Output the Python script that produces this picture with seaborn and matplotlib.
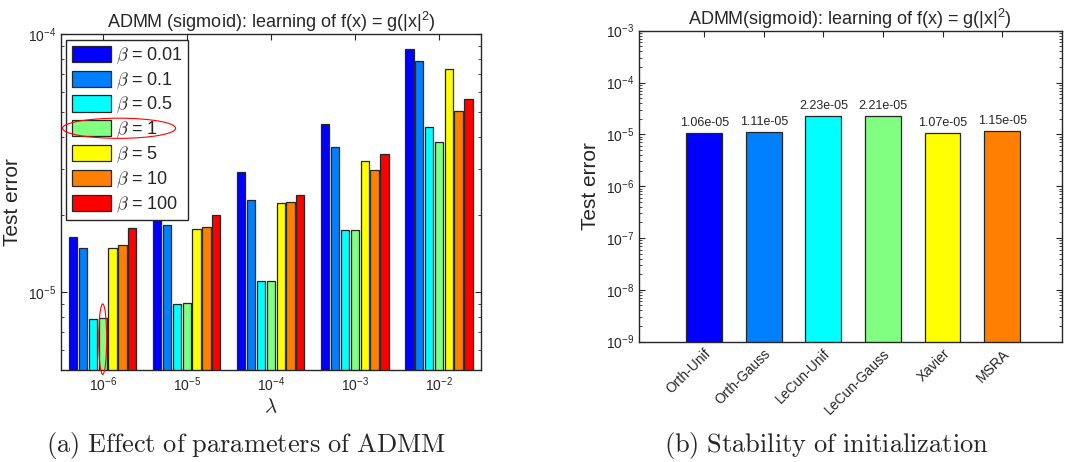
import numpy as np
import pandas as pd
import matplotlib
matplotlib.use("Agg")
import matplotlib.pyplot as plt
import matplotlib.ticker as mticker
import matplotlib.transforms as mtransforms
from matplotlib.patches import Ellipse
import seaborn as sns

# --- data ---
lambdas = ["1e-6", "1e-5", "1e-4", "1e-3", "1e-2"]
lambda_labels = [r"$\mathregular{10^{-6}}$", r"$\mathregular{10^{-5}}$", r"$\mathregular{10^{-4}}$",
                 r"$\mathregular{10^{-3}}$", r"$\mathregular{10^{-2}}$"]
betas = ["0.01", "0.1", "0.5", "1", "5", "10", "100"]
err_b001 = [1.64e-5, 2.20e-5, 2.92e-5, 4.48e-5, 8.77e-5]
err_b01 = [1.48e-5, 1.82e-5, 2.29e-5, 3.66e-5, 7.88e-5]
err_b05 = [7.86e-6, 8.98e-6, 1.11e-5, 1.74e-5, 4.37e-5]
err_b1 = [7.98e-6, 9.06e-6, 1.105e-5, 1.74e-5, 3.84e-5]
err_b5 = [1.48e-5, 1.76e-5, 2.23e-5, 3.22e-5, 7.36e-5]
err_b10 = [1.52e-5, 1.79e-5, 2.25e-5, 2.99e-5, 5.04e-5]
err_b100 = [1.77e-5, 1.99e-5, 2.38e-5, 3.44e-5, 5.62e-5]

inits = ["Orth-Unif", "Orth-Gauss", "LeCun-Unif", "LeCun-Gauss", "Xavier", "MSRA"]
init_err = [1.06e-5, 1.11e-5, 2.23e-5, 2.21e-5, 1.07e-5, 1.15e-5]

jet7 = ["#0000ff", "#0080ff", "#00ffff", "#80ff80", "#ffff00", "#ff8000", "#ff0000"]

sns.set_style("ticks")
plt.rcParams["font.family"] = ["Liberation Sans", "DejaVu Sans"]
plt.rcParams["mathtext.fontset"] = "cm"
plt.rcParams["axes.edgecolor"] = "#262626"
plt.rcParams["axes.linewidth"] = 1.0

rows = []
for b, errs in zip(betas, [err_b001, err_b01, err_b05, err_b1, err_b5, err_b10, err_b100]):
    for lam, e in zip(lambdas, errs):
        rows.append({"lam": lam, "err": e, "beta": r"$\beta$ = " + b})
df = pd.DataFrame(rows)

fig = plt.figure(figsize=(10.7, 4.62), dpi=100)
ax1 = fig.add_axes([0.0567, 0.199, 0.3928, 0.7266])
ax2 = fig.add_axes([0.5969, 0.2604, 0.3953, 0.6732])

# (a) grouped bars
sns.barplot(data=df, x="lam", y="err", hue="beta", palette=jet7, saturation=1, width=0.82, gap=0.16,
            edgecolor="#262626", linewidth=0.9, errorbar=None, ax=ax1)
ax1.set_yscale("log")
ax1.set_ylim(5e-6, 1e-4)
ax1.set_xlim(-0.5, 4.5)
ax1.set_yticks([1e-5, 1e-4])
ax1.set_yticklabels([r"$\mathregular{10^{-5}}$", r"$\mathregular{10^{-4}}$"])
ax1.yaxis.set_minor_formatter(mticker.NullFormatter())
ax1.set_xticks(range(len(lambdas)))
ax1.set_xticklabels(lambda_labels)
ax1.tick_params(which="both", direction="in", top=True, right=True, labelsize=10,
                labelcolor="#262626", color="#262626")
ax1.tick_params(which="major", length=4)
ax1.tick_params(which="minor", length=2.5)
ax1.set_xlabel(r"$\lambda$", fontsize=15, color="#262626", labelpad=3)
ax1.set_ylabel("Test error", fontsize=15, color="#262626", labelpad=4)
ax1.set_title(r"ADMM (sigmoid): learning of f(x) = g(|x|$\mathregular{^2}$)", fontsize=13, pad=4)
h, l = ax1.get_legend_handles_labels()
leg = ax1.legend(h, l, loc="upper left", fontsize=13, frameon=True, fancybox=False,
                 edgecolor="#262626", framealpha=1, handlelength=2.2, handleheight=1.0,
                 handletextpad=0.25, labelspacing=0.24, borderpad=0.3, borderaxespad=0.3)

# red highlights: the beta = 1 legend entry and its bar at lambda = 1e-6
fig.canvas.draw()
inv = ax1.transAxes.inverted()
hb = leg.legend_handles[3].get_window_extent()
tb = leg.get_texts()[3].get_window_extent()
x0, y0 = inv.transform((hb.x0 - 9, hb.y0 - 2))
x1, y1 = inv.transform((tb.x1 + 18, hb.y1 + 2))
ax1.add_patch(Ellipse(((x0 + x1) / 2, (y0 + y1) / 2), x1 - x0, y1 - y0, transform=ax1.transAxes,
                      fill=False, edgecolor="red", linewidth=0.8, clip_on=False, zorder=10))
green = ax1.containers[3][0]
xc = green.get_x() + green.get_width() / 2
blend = mtransforms.blended_transform_factory(ax1.transData, ax1.transAxes)
ax1.add_patch(Ellipse((xc, 0.092), 0.095, 0.21, transform=blend,
                      fill=False, edgecolor="red", linewidth=0.8, clip_on=False, zorder=10))

# (b) initialization bars
sns.barplot(x=inits, y=init_err, hue=inits, palette=jet7[:6], saturation=1, legend=False, width=0.6,
            edgecolor="#262626", linewidth=0.9, ax=ax2)
ax2.set_yscale("log")
ax2.set_ylim(1e-9, 1e-3)
ax2.set_xlim(-1.1, 6.0)
for c in ax2.containers:
    ax2.bar_label(c, fmt="%.2e", padding=3, fontsize=9, color="#262626")
dec = [1e-9, 1e-8, 1e-7, 1e-6, 1e-5, 1e-4, 1e-3]
ax2.set_yticks(dec)
ax2.set_yticklabels([r"$\mathregular{10^{%d}}$" % int(np.log10(d)) for d in dec])
ax2.yaxis.set_minor_locator(mticker.LogLocator(base=10, subs=np.arange(2, 10), numticks=20))
ax2.yaxis.set_minor_formatter(mticker.NullFormatter())
ax2.set_xticks(range(len(inits)))
ax2.set_xticklabels(inits, rotation=45, ha="right", rotation_mode="anchor")
ax2.tick_params(which="both", direction="in", top=True, right=True, labelsize=10,
                labelcolor="#262626", color="#262626")
ax2.tick_params(which="major", length=4)
ax2.tick_params(which="minor", length=2)
ax2.set_ylabel("Test error", fontsize=15, color="#262626", labelpad=4)
ax2.set_title(r"ADMM(sigmoid): learning of f(x) = g(|x|$\mathregular{^2}$)", fontsize=13, pad=4)

# captions
fig.text(0.23, 0.022, r"$\mathrm{(a)\ Effect\ of\ parameters\ of\ ADMM}$", ha="center", fontsize=19)
fig.text(0.772, 0.022, r"$\mathrm{(b)\ Stability\ of\ initialization}$", ha="center", fontsize=19)

fig.savefig("out.png", dpi=100)
